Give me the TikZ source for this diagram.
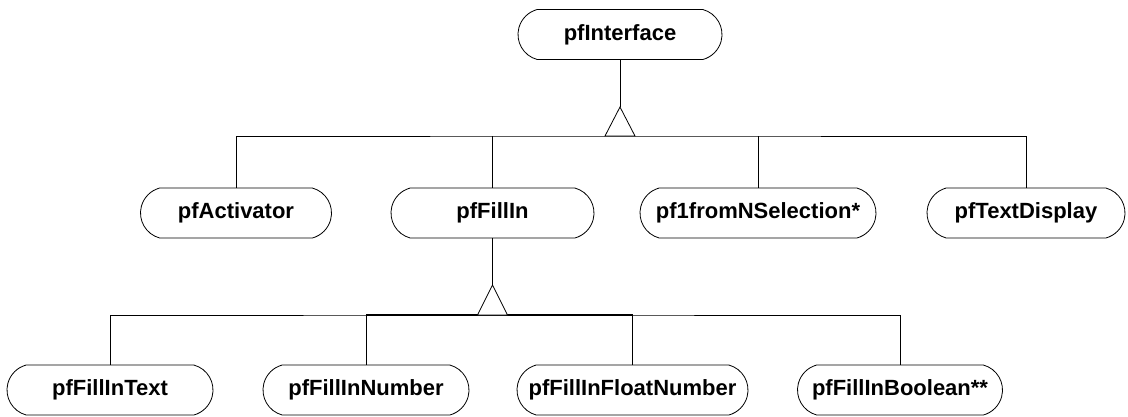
\documentclass[tikz,border=0pt]{standalone}
\usepackage{fontspec}
\setmainfont{Liberation Sans}
\usepackage{tikz}
\usetikzlibrary{shapes.misc}
\tikzset{
  cls/.style={draw, rounded rectangle, rounded rectangle arc length=150, minimum height=50pt, inner sep=0pt, line width=0.8pt, font=\fontsize{22}{26}\selectfont\bfseries},
  link/.style={line width=0.8pt},
  isa/.style={draw, line width=0.8pt, fill=white}
}

\begin{document}
\begin{tikzpicture}[x=1pt, y=-1pt]
        \useasboundingbox (0,0) rectangle (1128,416);
        % base class
        \node[cls, minimum width=204pt] (iface) at (620,34.5) {pfInterface};
        % first level
        \node[cls, minimum width=191pt] (activ) at (236,213) {pfActivator};
        \node[cls, minimum width=203pt] (fillin) at (492.5,213) {pfFillIn};
        \node[cls, minimum width=236pt] (select) at (758,213) {pf1fromNSelection*};
        \node[cls, minimum width=198pt] (tdisp) at (1026,213) {pfTextDisplay};
        % second level
        \node[cls, minimum width=206pt] (ftext) at (110,390) {pfFillInText};
        \node[cls, minimum width=206pt] (fnum) at (366,390) {pfFillInNumber};
        \node[cls, minimum width=231pt] (ffloat) at (632.5,390) {pfFillInFloatNumber};
        \node[cls, minimum width=205pt] (fbool) at (900,390) {pfFillInBoolean**};
        % inheritance from pfInterface
        \coordinate (tri1) at (620,107);
        \coordinate (bar1) at (620,136);
        \draw[link] (iface.south) -- (tri1);
        \draw[link] (activ.north) |- (bar1) -| (tdisp.north);
        \draw[link] (fillin.north) -- (fillin.north |- bar1);
        \draw[link] (select.north) -- (select.north |- bar1);
        \draw[isa] (tri1) -- ++(-15,29) -- ++(30,0) -- cycle;
        % inheritance from pfFillIn
        \coordinate (tri2) at (492.5,285);
        \coordinate (bar2) at (492.5,315);
        \draw[link] (fillin.south) -- (tri2);
        \draw[link] (ftext.north) |- (bar2) -| (fbool.north);
        \draw[line width=1.5pt] (fnum.north |- bar2) -- (ffloat.north |- bar2);
        \draw[link] (fnum.north) -- (fnum.north |- bar2);
        \draw[link] (ffloat.north) -- (ffloat.north |- bar2);
        \draw[isa] (tri2) -- ++(-15,30) -- ++(30,0) -- cycle;
      \end{tikzpicture}
\end{document}
